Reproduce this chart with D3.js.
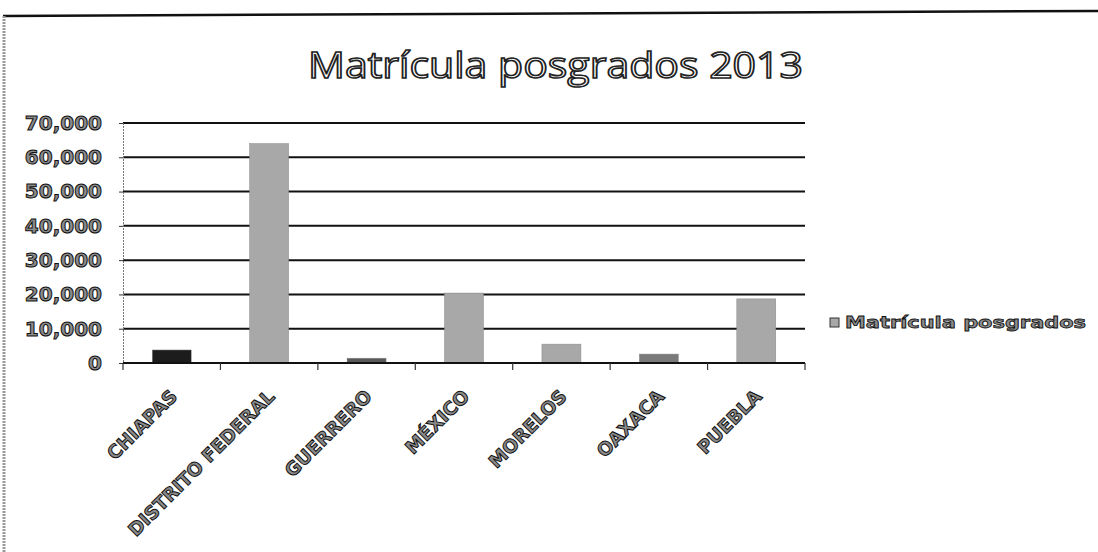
<!DOCTYPE html>
<html><head><meta charset="utf-8">
<script src="https://cdn.jsdelivr.net/npm/d3@7"></script>
<style>body{margin:0;background:#fff}svg{display:block}</style>
</head><body>
<script>
const categories = ["CHIAPAS","DISTRITO FEDERAL","GUERRERO","MÉXICO","MORELOS","OAXACA","PUEBLA"];
const values = [3800, 64000, 1400, 20400, 5500, 2600, 18700];
const yTicks = [0,10000,20000,30000,40000,50000,60000,70000];
const seriesName = "Matrícula posgrados";
const titleText = "Matrícula posgrados 2013";

const W = 1098, H = 552;
const m = {left:123, right:805, top:123, bottom:363};
const barFill = {"CHIAPAS":"#1c1c1c","GUERRERO":"#5a5a5a","OAXACA":"#7a7a7a"};

const svg = d3.select("body").append("svg").attr("width",W).attr("height",H);

// scan border
svg.append("line").attr("x1",3).attr("y1",16).attr("x2",W).attr("y2",11)
  .attr("stroke","#111").attr("stroke-width",2.5);
svg.append("line").attr("x1",4).attr("y1",16).attr("x2",4).attr("y2",H)
  .attr("stroke","#999").attr("stroke-width",3).attr("stroke-dasharray","2,1");

const xb = d3.scaleBand().domain(categories).range([m.left,m.right]);
const y = d3.scaleLinear().domain([0,70000]).range([m.bottom,m.top]);

// gridlines
svg.append("g").selectAll("line").data(yTicks).join("line")
  .attr("x1",m.left).attr("x2",m.right)
  .attr("y1",d=>y(d)).attr("y2",d=>y(d))
  .attr("stroke","#111").attr("stroke-width",2);

// y axis
const yAxis = svg.append("g").attr("transform",`translate(${m.left},0)`)
  .call(d3.axisLeft(y).tickValues(yTicks).tickSize(4).tickPadding(17).tickFormat(d3.format(",")));
yAxis.select(".domain").attr("stroke","#777").attr("stroke-dasharray","2,1");
yAxis.selectAll(".tick line").attr("stroke","#333");
yAxis.selectAll("text").attr("font-family","DejaVu Sans").attr("font-weight","bold")
  .attr("font-size",20).attr("fill","#8a8a8a").attr("stroke","#111").attr("stroke-width",1)
  .attr("paint-order","fill");

// bars
svg.append("g").selectAll("rect").data(categories).join("rect")
  .attr("x",d=>xb(d)+xb.bandwidth()*0.3).attr("width",xb.bandwidth()*0.4)
  .attr("y",(d,i)=>y(values[i])).attr("height",(d,i)=>y(0)-y(values[i]))
  .attr("fill",d=>barFill[d]||"#a8a8a8").attr("stroke","#888").attr("stroke-width",0.5);

// x axis
const xTickPos = categories.map(c=>xb(c)).concat([m.right]);
svg.append("line").attr("x1",m.left).attr("x2",m.right).attr("y1",y(0)).attr("y2",y(0))
  .attr("stroke","#111").attr("stroke-width",2);
svg.append("g").selectAll("line").data(xTickPos).join("line")
  .attr("x1",d=>d).attr("x2",d=>d).attr("y1",y(0)).attr("y2",y(0)+7)
  .attr("stroke","#333").attr("stroke-width",1.2);

svg.append("g").selectAll("text").data(categories).join("text")
  .attr("transform",d=>`translate(${xb(d)+xb.bandwidth()/2+2},${y(0)+30}) rotate(-45)`)
  .attr("text-anchor","end").attr("dy","0.35em")
  .attr("font-family","DejaVu Sans").attr("font-weight","bold").attr("font-size",18.5)
  .attr("fill","#8a8a8a").attr("stroke","#111").attr("stroke-width",1)
  .text(d=>d);

// title
svg.append("text").attr("x",(308+803)/2).attr("y",78).attr("text-anchor","middle")
  .attr("font-family","Open Sans").attr("font-size",36)
  .attr("textLength",495).attr("lengthAdjust","spacingAndGlyphs")
  .attr("fill","#fff").attr("stroke","#222").attr("stroke-width",1.6)
  .text(titleText);

// legend
svg.append("rect").attr("x",830).attr("y",318).attr("width",9).attr("height",9)
  .attr("fill","#a8a8a8").attr("stroke","#333").attr("stroke-width",1);
svg.append("text").attr("x",845).attr("y",328)
  .attr("font-family","DejaVu Sans").attr("font-weight","bold").attr("font-size",16)
  .attr("textLength",241).attr("lengthAdjust","spacingAndGlyphs")
  .attr("fill","#8a8a8a").attr("stroke","#111").attr("stroke-width",0.8)
  .text(seriesName);
</script>
</body></html>
